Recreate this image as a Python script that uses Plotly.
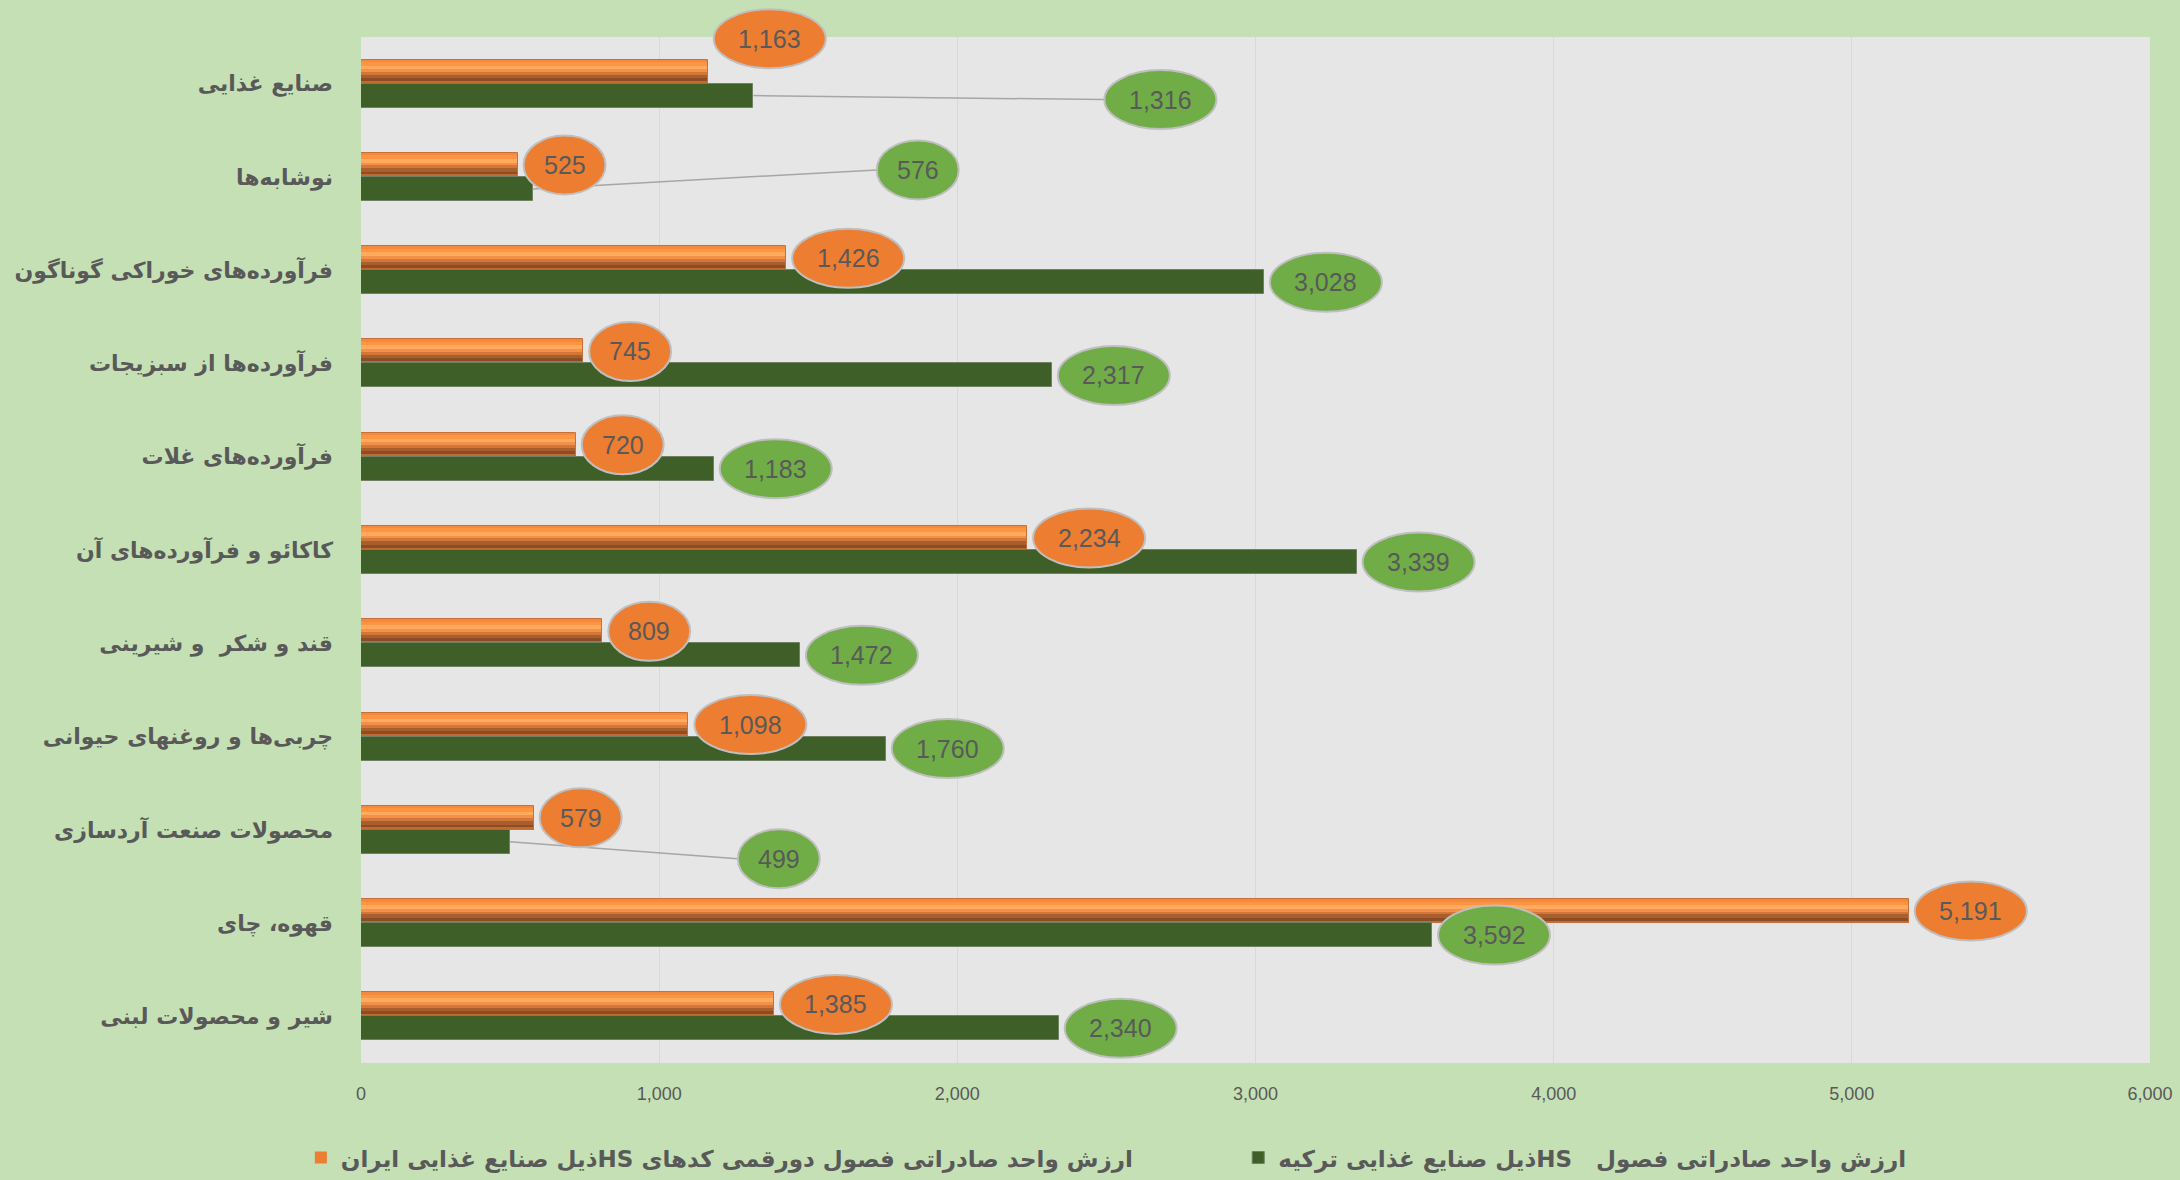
import plotly.graph_objects as go

# ---------------- data ----------------
categories = [
    "صنایع غذایی",
    "نوشابه‌ها",
    "فرآورده‌های خوراکی گوناگون",
    "فرآورده‌ها از سبزیجات",
    "فرآورده‌های غلات",
    "کاکائو و فرآورده‌های آن",
    "قند و شکر  و شیرینی",
    "چربی‌ها و روغنهای حیوانی",
    "محصولات صنعت آردسازی",
    "قهوه، چای",
    "شیر و محصولات لبنی",
]
iran_values = [1163, 525, 1426, 745, 720, 2234, 809, 1098, 579, 5191, 1385]
turkey_values = [1316, 576, 3028, 2317, 1183, 3339, 1472, 1760, 499, 3592, 2340]
series_names = [
    "ارزش واحد صادراتی فصول دورقمی کدهای HSذیل صنایع غذایی ایران",
    "ارزش واحد صادراتی فصول   HSذیل صنایع غذایی ترکیه",
]
x_tick_values = [0, 1000, 2000, 3000, 4000, 5000, 6000]

# ---------------- style ----------------
PAPER = "#C5E0B4"
PLOT_BG = "#E6E6E6"
GRID = "#D9D9D9"
TEXT = "#595959"
ORANGE = "#ED7D31"
GREEN_BAR = "#3F5F29"
GREEN_LABEL = "#70AD47"
BAR_W = 0.257
FA_FONT = "DejaVu Sans"
NUM_FONT = "Liberation Sans Narrow, Liberation Sans, Arial"

# bevel look for the orange bars: (start fraction, end fraction, colour), top->bottom
ORANGE_BANDS = [
    (0.00, 0.10, "#F48A3E"),
    (0.10, 0.25, "#FF9442"),
    (0.25, 0.40, "#FFAA5C"),
    (0.40, 0.52, "#F3904A"),
    (0.52, 0.64, "#D27737"),
    (0.64, 0.78, "#A95F2D"),
    (0.78, 0.92, "#8C4C24"),
    (0.92, 1.00, "#C46A30"),
]

# manual label moves (series, index) -> (dx px from bar end to label centre, dy px)
LABEL_MOVES = {
    (0, 0): (None, 33),
    (1, 0): (407, -4),
    (1, 1): (385, 19),
    (1, 8): (269, -17),
}

idx = list(range(len(categories)))
Y_RANGE = [len(categories) - 0.5, -0.5]


def y_domain(pos):
    # category position -> fraction of the y axis domain (axis is reversed)
    return (Y_RANGE[0] - pos) / (Y_RANGE[0] - Y_RANGE[1])


fig = go.Figure()

# orange series (legend entry + bevel bands + outline)
fig.add_trace(go.Bar(
    y=categories, x=iran_values, orientation="h", name="\u202b" + series_names[0] + "\u202c",
    offset=-BAR_W, width=BAR_W, marker=dict(color=ORANGE, line=dict(width=0)),
    hoverinfo="skip", legend="legend",
))
for s, e, c in ORANGE_BANDS:
    fig.add_trace(go.Bar(
        y=categories, x=iran_values, orientation="h", showlegend=False,
        offset=-BAR_W + s * BAR_W, width=(e - s) * BAR_W,
        marker=dict(color=c, line=dict(width=0)), hoverinfo="skip",
    ))
fig.add_trace(go.Bar(
    y=categories, x=iran_values, orientation="h", showlegend=False,
    offset=-BAR_W, width=BAR_W,
    marker=dict(color="rgba(0,0,0,0)", line=dict(color="#C8703A", width=1)), hoverinfo="skip",
))

# green series
fig.add_trace(go.Bar(
    y=categories, x=turkey_values, orientation="h", name="\u202b" + series_names[1] + "\u202c",
    offset=0, width=BAR_W, marker=dict(color=GREEN_BAR, line=dict(color="#6F8063", width=1)),
    hoverinfo="skip", legend="legend2",
))

# ---------------- data labels (ellipses) ----------------
lines, ellipses, annotations = [], [], []
for si, (vals, fill, yoff) in enumerate([
    (iran_values, ORANGE, -BAR_W / 2),
    (turkey_values, GREEN_LABEL, BAR_W / 2),
]):
    for i, v in zip(idx, vals):
        txt = f"{v:,}"
        w = 112 if len(txt) > 3 else 82
        h = 59
        dx = 6 + w / 2
        dy = 0
        if (si, i) in LABEL_MOVES:
            mdx, mdy = LABEL_MOVES[(si, i)]
            if mdx is not None:
                dx = mdx
            dy = mdy
            if mdx is not None:
                lines.append(dict(
                    type="line", xref="x", yref="y", xsizemode="pixel", ysizemode="pixel",
                    xanchor=v, yanchor=i + yoff, x0=0, x1=dx - w / 2, y0=0, y1=dy,
                    line=dict(color="#A6A6A6", width=1.5), layer="above",
                ))
        ellipses.append(dict(
            type="circle", xref="x", yref="y domain", xsizemode="pixel", ysizemode="pixel",
            xanchor=v, yanchor=y_domain(i + yoff), x0=dx - w / 2, x1=dx + w / 2,
            y0=dy - h / 2, y1=dy + h / 2,
            fillcolor=fill, line=dict(color="#BFBFBF", width=2), layer="above",
        ))
        annotations.append(dict(
            x=v, y=i + yoff, xref="x", yref="y", xshift=dx, yshift=dy,
            text=txt, showarrow=False, xanchor="center", yanchor="middle",
            font=dict(family=NUM_FONT, size=25, color=TEXT),
        ))

legend_common = dict(
    orientation="h", xref="container", yref="container", xanchor="left",
    y=0.019, yanchor="middle",
    font=dict(family=FA_FONT, size=23, color=TEXT, weight="bold"),
    bgcolor="rgba(0,0,0,0)", itemwidth=30,
)

fig.update_layout(
    width=2180, height=1180, autosize=False,
    paper_bgcolor=PAPER, plot_bgcolor=PLOT_BG,
    margin=dict(l=361, r=30, t=37, b=117),
    barmode="overlay", bargap=0,
    shapes=lines + ellipses,
    annotations=annotations,
    showlegend=True,
    legend=dict(x=0.138, **legend_common),
    legend2=dict(x=0.568, **legend_common),
    xaxis=dict(
        range=[0, 6000], tickvals=x_tick_values, tickformat=",d",
        showgrid=True, gridcolor=GRID, gridwidth=1, zeroline=False, showline=False,
        tickfont=dict(family=NUM_FONT, size=18, color=TEXT), ticks="", ticklabelstandoff=18,
        automargin=False,
    ),
    yaxis=dict(
        type="category", categoryorder="array", categoryarray=categories,
        range=Y_RANGE, showgrid=False, zeroline=False, showline=False,
        tickfont=dict(family=FA_FONT, size=22, color=TEXT, weight="bold"), ticks="",
        ticklabelstandoff=27, automargin=False,
    ),
)

fig.write_html("out.html", post_script="document.body.style.margin='0';",
               config={"displayModeBar": False})
